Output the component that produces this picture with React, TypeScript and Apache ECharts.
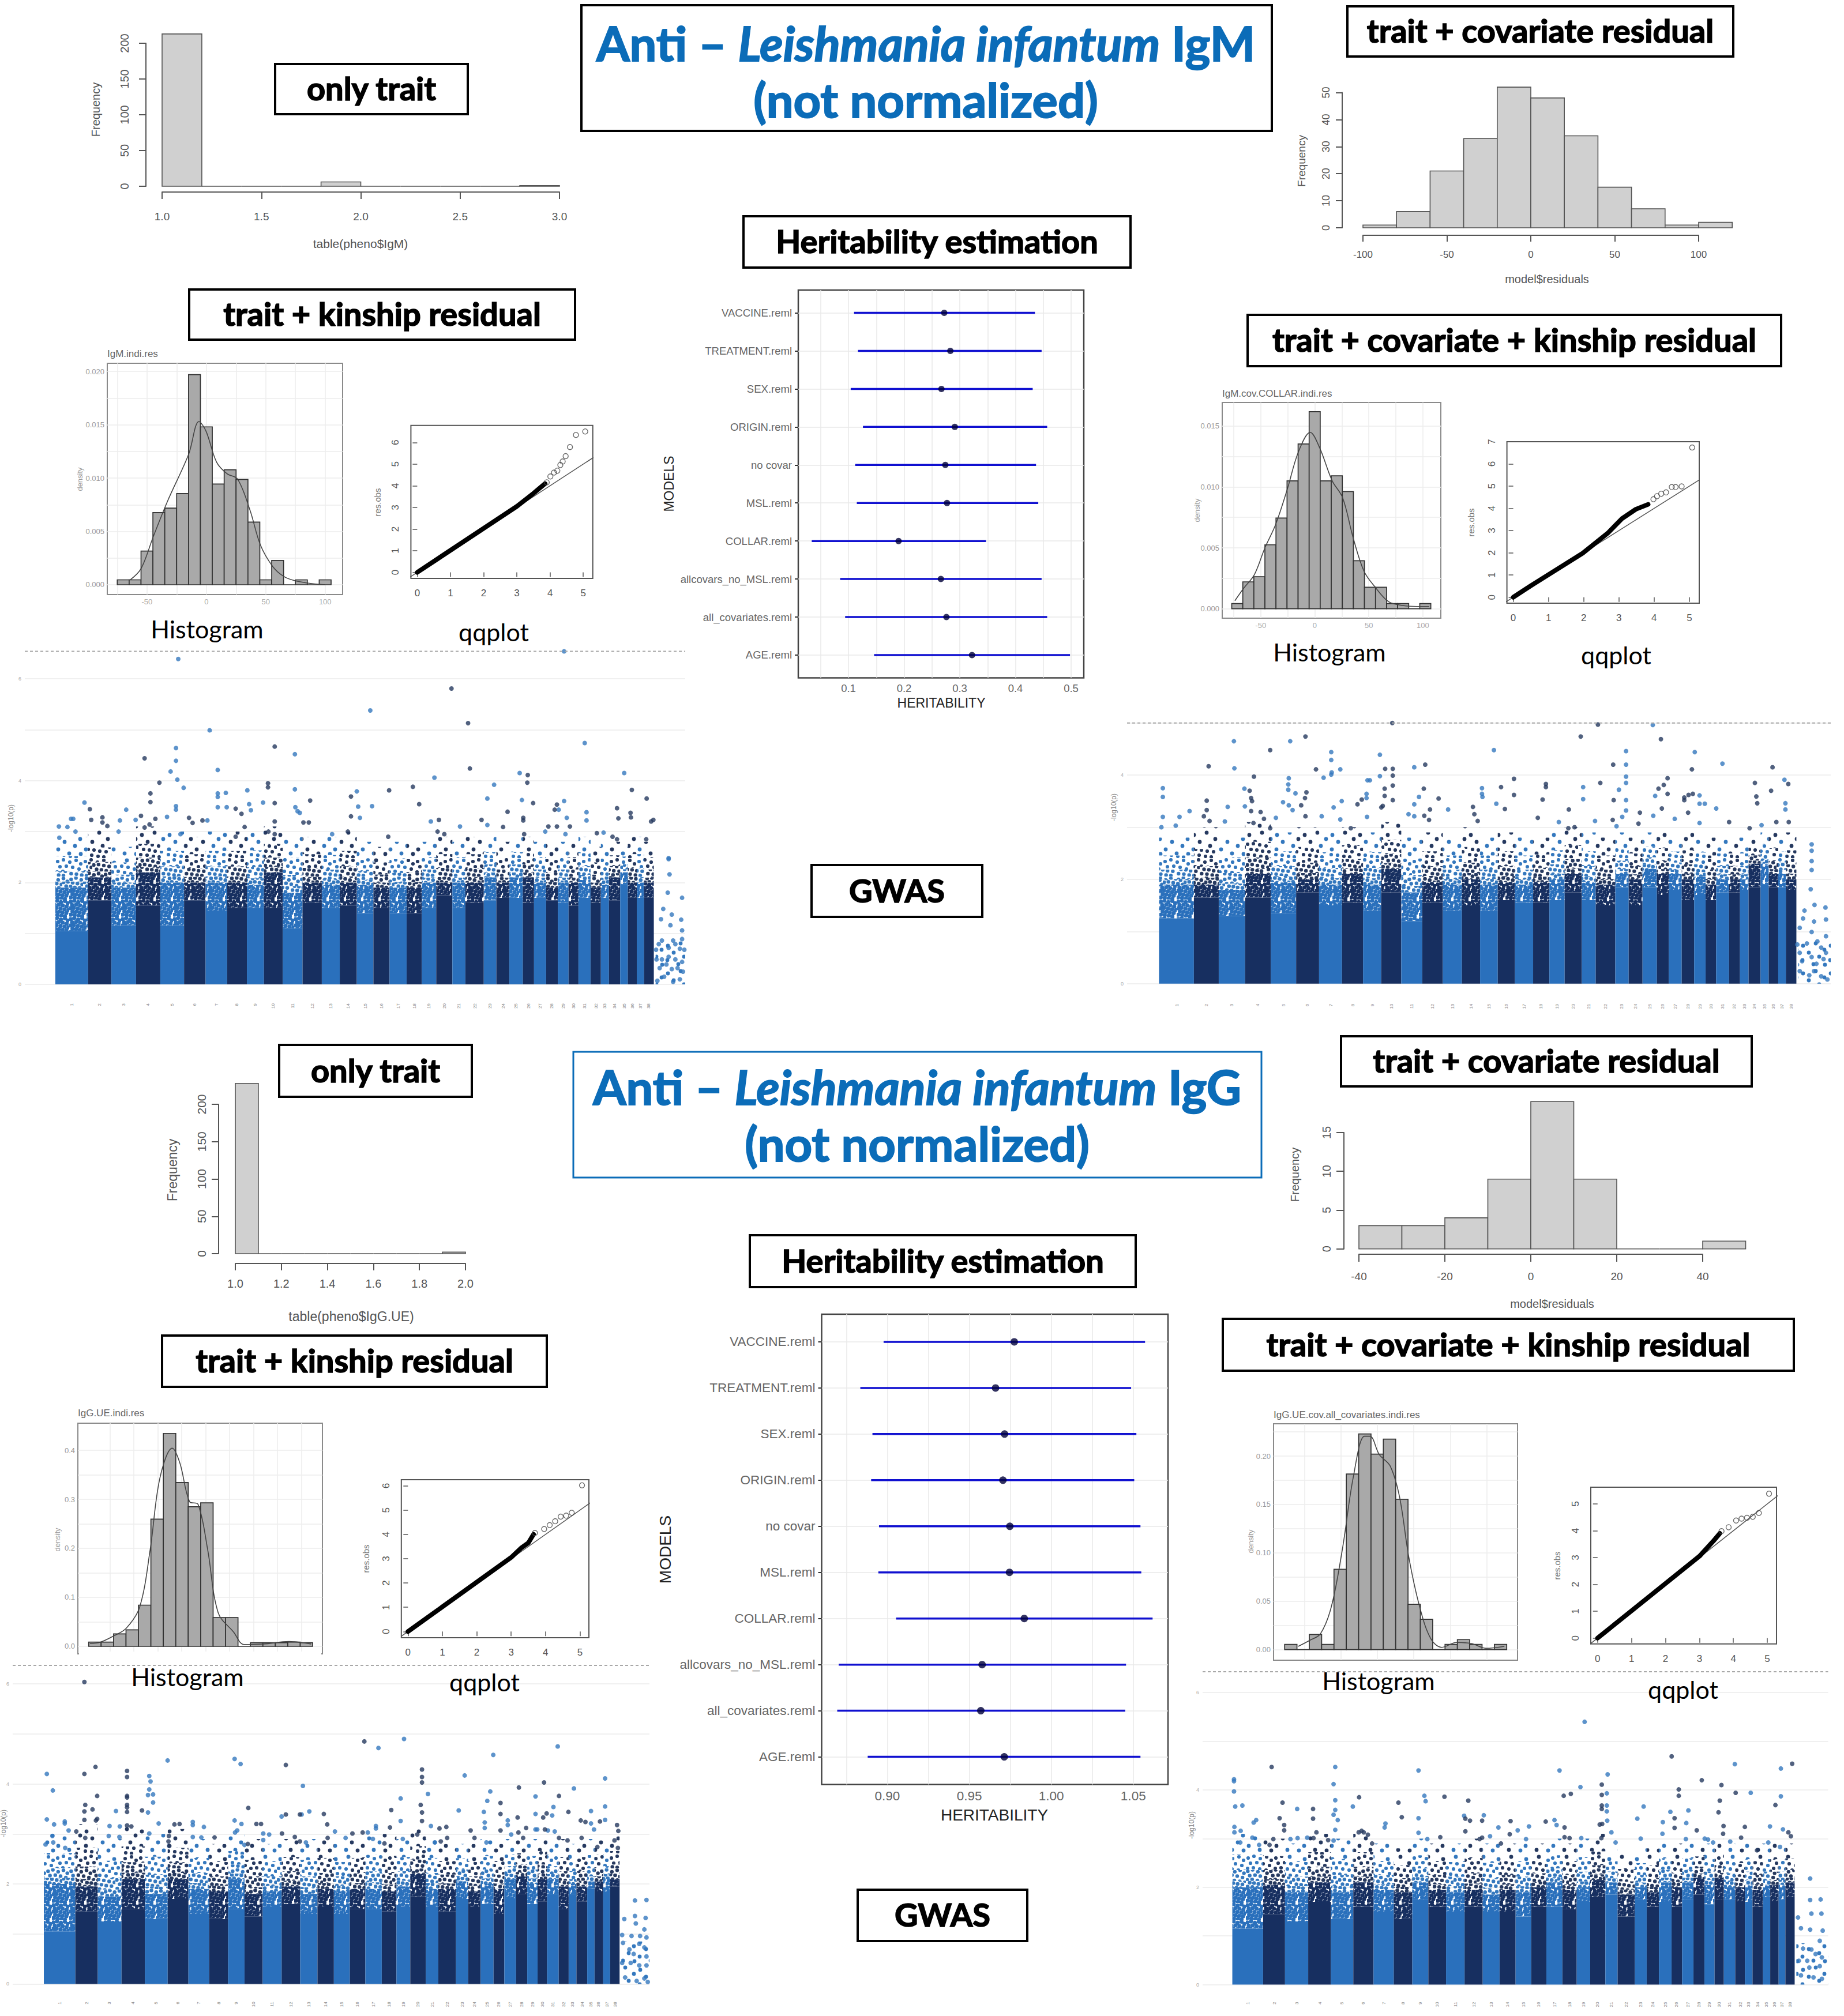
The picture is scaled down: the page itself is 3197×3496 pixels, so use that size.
import React, { useEffect, useRef } from "react";
import * as echarts from "echarts";

// ---------- data ----------
const igmOnlyTraitBins = [213, 0, 0, 0, 6, 0, 0, 0, 0, 1];
const igmCovResidualBins = [1, 6, 21, 33, 52, 48, 34, 15, 7, 1, 2];
const iggOnlyTraitBins = [228, 0, 0, 0, 0, 0, 0, 0, 0, 2];
const iggCovResidualBins = [3, 3, 4, 9, 19, 9, 0, 0, 1];

const igmIndiDensity = [0.00046, 0.00046, 0.00315, 0.00676, 0.00718, 0.00855, 0.0197, 0.0148, 0.00944, 0.01078, 0.00987, 0.00587, 0.00046, 0.00228, 0, 0.00046, 0, 0.00046];
const igmIndiCurve = [[-64, 0.00046], [-55, 0.0015], [-44.7, 0.0045], [-32.8, 0.0078], [-15, 0.0122], [-6.2, 0.0153], [-0.3, 0.0144], [8.6, 0.0115], [17.5, 0.0104], [26.3, 0.0099], [36.7, 0.007], [45.6, 0.0037], [55.9, 0.0017], [64.8, 0.0008], [73.7, 0.0004], [88.5, 0.0001], [100, 0]];
const igmCollarDensity = [0.00043, 0.00221, 0.00263, 0.00525, 0.00744, 0.01049, 0.01352, 0.01617, 0.01049, 0.01091, 0.00962, 0.00394, 0.00177, 0.00177, 0.00043, 0.00043, 0, 0.00043];
const igmCollarCurve = [[-73.9, 0.00066], [-65.7, 0.00169], [-55.9, 0.00279], [-46.1, 0.005], [-36.3, 0.00689], [-25.8, 0.00969], [-15, 0.0129], [-4.2, 0.01447], [4.6, 0.01319], [16, 0.01052], [25.8, 0.0091], [35.6, 0.00579], [45.4, 0.00311], [55.2, 0.00185], [68.3, 0.00058], [81.4, 0.00027], [94.4, 0.00019], [105.9, 0.00019]];
const iggIndiDensity = [0.0086, 0.0086, 0.0254, 0.0337, 0.0841, 0.2595, 0.4344, 0.3342, 0.2849, 0.2928, 0.0587, 0.0587, 0, 0.0074, 0.0074, 0.0074, 0.0086, 0.0074];
const iggIndiCurve = [[-9.6, 0.0059], [-8.5, 0.0086], [-7.1, 0.0215], [-5.8, 0.037], [-4.4, 0.0803], [-3.3, 0.198], [-2.3, 0.3425], [-1, 0.4043], [-0.2, 0.3738], [0.8, 0.2955], [1.7, 0.2896], [2.7, 0.1976], [3.8, 0.0685], [5.4, 0.0294], [6.5, 0.0039], [8.5, 0.0047], [11.2, 0.0098], [13.5, 0.0047]];
const iggAllCovDensity = [0.0054, 0, 0.0157, 0.0054, 0.0831, 0.1815, 0.2229, 0.202, 0.2175, 0.1554, 0.0468, 0.0313, 0, 0.0054, 0.0104, 0.0054, 0, 0.0054];
const iggAllCovCurve = [[-5.43, 0.0034], [-4.67, 0.0094], [-3.91, 0.0163], [-3.16, 0.0442], [-2.4, 0.1038], [-1.64, 0.1793], [-0.88, 0.2205], [-0.51, 0.2205], [0.13, 0.2016], [0.88, 0.1897], [1.52, 0.1578], [2.15, 0.096], [2.9, 0.0442], [3.66, 0.0114], [4.42, 0.0024], [5.43, 0.0074], [6.44, 0.0064], [7.45, 0.0014], [8.71, 0.0034]];

const q1Body = [[0, 0], [3, 3.05], [3.5, 3.65], [3.85, 4.1]];
const q1Tail = [[3.9, 4.16], [4.01, 4.43], [4.12, 4.61], [4.22, 4.7], [4.31, 4.96], [4.38, 5.12], [4.47, 5.37], [4.6, 5.79], [4.78, 6.35], [5.06, 6.51]];
const q2Body = [[0, 0], [0.47, 0.49], [1.97, 1.98], [2.68, 2.88], [3.08, 3.53], [3.48, 3.96], [3.83, 4.18]];
const q2Tail = [[3.98, 4.41], [4.08, 4.55], [4.2, 4.66], [4.34, 4.72], [4.5, 4.96], [4.61, 4.96], [4.78, 4.99], [5.08, 6.74]];
const q3Body = [[0, 0], [3, 3.05], [3.3, 3.45], [3.5, 3.65], [3.65, 4.0]];
const q3Tail = [[3.69, 4.06], [3.96, 4.22], [4.12, 4.38], [4.28, 4.54], [4.44, 4.73], [4.6, 4.77], [4.76, 4.89], [5.06, 6.02]];
const q4Body = [[0, 0], [3, 3.05], [3.4, 3.6], [3.6, 3.9]];
const q4Tail = [[3.65, 3.98], [3.86, 4.13], [4.08, 4.38], [4.24, 4.45], [4.4, 4.48], [4.57, 4.52], [4.75, 4.66], [5.05, 5.38]];

const modelNames = ["AGE.reml", "all_covariates.reml", "allcovars_no_MSL.reml", "COLLAR.reml", "MSL.reml", "no covar", "ORIGIN.reml", "SEX.reml", "TREATMENT.reml", "VACCINE.reml"];
const igmLow = [0.146, 0.094, 0.085, 0.034, 0.115, 0.112, 0.126, 0.104, 0.117, 0.11];
const igmHigh = [0.498, 0.457, 0.447, 0.347, 0.441, 0.437, 0.457, 0.431, 0.447, 0.435];
const igmEst = [0.322, 0.276, 0.266, 0.19, 0.277, 0.274, 0.291, 0.267, 0.283, 0.272];
const iggLow = [0.888, 0.8694, 0.8703, 0.9053, 0.8945, 0.8949, 0.8901, 0.8909, 0.8835, 0.8977];
const iggHigh = [1.0544, 1.0451, 1.0456, 1.0618, 1.0549, 1.0544, 1.0506, 1.0519, 1.0487, 1.0572];
const iggEst = [0.9713, 0.957, 0.9578, 0.9835, 0.9745, 0.9747, 0.9705, 0.9715, 0.966, 0.9774];

const chrLengths = [73, 52, 55, 54, 53, 48, 48, 44, 38, 42, 44, 43, 40, 38, 37, 36, 38, 34, 32, 36, 29, 41, 28, 29, 30, 25, 27, 26, 24, 22, 27, 23, 18, 25, 17, 20, 16, 22];

const m1Solid = [1.05, 1.65, 1.15, 1.55, 1.15, 1.65, 1.45, 1.5, 1.5, 1.5, 1.1, 1.6, 1.5, 1.55, 1.4, 1.5, 1.4, 1.4, 1.5, 1.75, 1.5, 1.6, 1.65, 1.7, 1.7, 1.6, 1.7, 1.65, 1.6, 1.55, 1.7, 1.6, 1.7, 1.65, 1.95, 1.7, 1.7, 1.7];
const m1Dense = [1.9, 2.1, 1.9, 2.2, 2.0, 2.0, 2.0, 2.0, 1.95, 2.2, 1.8, 2.0, 1.95, 2.0, 1.95, 1.9, 1.9, 1.9, 2.0, 2.0, 2.0, 2.0, 2.1, 2.0, 2.1, 2.1, 2.0, 1.9, 2.0, 2.0, 2.05, 1.9, 1.95, 2.1, 2.2, 2.0, 2.0, 2.0];
const m1Sparse = [2.7, 2.85, 2.5, 2.9, 2.8, 2.7, 2.8, 2.8, 2.85, 2.9, 2.7, 2.7, 2.7, 2.8, 2.6, 2.5, 2.6, 2.6, 2.6, 2.7, 2.6, 2.7, 2.7, 2.6, 2.7, 2.7, 2.6, 2.6, 2.6, 2.6, 2.7, 2.5, 2.6, 2.6, 2.5, 2.7, 2.7, 2.6];
const m1Points = [[274, 6.39], [1134, 6.54], [883, 5.81], [702, 5.38], [920, 5.13], [344, 4.99], [1180, 4.74], [489, 4.67], [269, 4.64], [199, 4.44], [534, 4.52], [269, 4.39], [362, 4.21], [924, 4.24], [257, 4.18], [1035, 4.15], [1053, 4.11], [1268, 4.15], [845, 4.06], [1052, 3.96], [232, 3.96], [272, 4.02], [474, 3.95], [474, 3.87], [286, 3.86], [797, 3.88], [978, 3.92], [534, 3.83], [428, 3.81], [672, 3.79], [744, 3.81], [1285, 3.82], [212, 3.75], [362, 3.75], [380, 3.76], [362, 3.68], [659, 3.69], [963, 3.65], [568, 3.61], [1040, 3.62], [1134, 3.6], [1318, 3.65], [65, 3.57], [212, 3.58], [432, 3.54], [463, 3.57], [489, 3.56], [811, 3.54], [1065, 3.56], [1118, 3.53], [706, 3.5], [675, 3.49], [269, 3.5], [362, 3.48], [382, 3.48], [77, 3.44], [158, 3.43], [269, 3.43], [535, 3.48], [402, 3.45], [1252, 3.46], [1113, 3.43], [1122, 3.43], [436, 3.42], [1184, 3.38], [1008, 3.39], [540, 3.4], [545, 3.37], [415, 3.35], [659, 3.3], [191, 3.31], [249, 3.29], [1282, 3.37], [1283, 3.28], [298, 3.27], [1255, 3.26], [1140, 3.27], [1043, 3.27], [1043, 3.22], [105, 3.28], [855, 3.23], [679, 3.27], [40, 3.25], [35, 3.25], [80, 3.23], [105, 3.18], [144, 3.22], [179, 3.23], [223, 3.25], [950, 3.23], [837, 3.2], [1333, 3.23], [553, 3.18], [565, 3.18], [306, 3.17], [328, 3.22], [339, 3.22], [489, 3.2], [1328, 3.2], [1184, 3.22], [116, 3.11], [210, 3.14], [963, 3.13], [998, 3.09], [8, 3.1], [27, 3.09], [9, 2.88], [45, 3.0], [141, 3.0], [199, 3.08], [422, 3.09], [475, 3.0], [489, 2.95], [652, 3.0], [742, 2.9], [852, 3.0], [867, 2.95], [902, 3.1], [1045, 2.95], [1092, 3.0], [1137, 2.95], [1207, 2.97], [1222, 2.98], [1242, 2.9], [1317, 2.85], [1252, 2.85], [1147, 3.1], [1099, 3.1], [1118, 3.1], [279, 2.95], [617, 2.95], [402, 2.9]];
const m1ChrX = [[1367, 2.48], [1367, 2.46], [1369, 2.16], [1365, 1.8], [1397, 1.7], [1355, 1.48], [1350, 1.28], [1374, 1.37], [1371, 1.16], [1395, 1.27], [1397, 1.06], [1397, 0.89], [1352, 0.86], [1345, 0.79], [1339, 0.68], [1377, 0.86], [1382, 0.79], [1367, 0.72], [1392, 0.7], [1402, 0.68], [1340, 0.49], [1352, 0.49], [1367, 0.54], [1382, 0.49], [1397, 0.44], [1347, 0.32], [1362, 0.39], [1374, 0.3], [1387, 0.32], [1399, 0.25], [1342, 0.07], [1357, 0.15], [1377, 0.05], [1392, 0.1]];

const m2Solid = [1.25, 1.65, 1.3, 1.65, 1.35, 1.75, 1.5, 1.55, 1.4, 1.75, 1.2, 1.55, 1.4, 1.5, 1.4, 1.6, 1.55, 1.55, 1.6, 1.75, 1.6, 1.5, 1.85, 1.5, 1.85, 1.7, 1.8, 1.6, 1.7, 1.6, 1.75, 1.75, 1.8, 1.85, 1.9, 1.85, 1.85, 1.8];
const m2Dense = [1.9, 1.9, 1.8, 2.1, 1.95, 2.0, 1.9, 2.1, 1.9, 2.2, 1.75, 1.95, 1.9, 2.0, 1.9, 1.95, 1.9, 1.95, 2.0, 2.1, 1.95, 1.9, 2.1, 2.0, 2.2, 2.1, 2.1, 2.0, 2.05, 1.9, 2.0, 2.0, 2.0, 2.3, 2.3, 2.1, 2.1, 2.0];
const m2Sparse = [2.6, 2.8, 2.6, 2.9, 2.7, 2.8, 2.7, 2.8, 2.7, 2.9, 2.6, 2.7, 2.6, 2.8, 2.6, 2.7, 2.6, 2.6, 2.7, 2.8, 2.7, 2.6, 2.7, 2.6, 2.7, 2.7, 2.6, 2.7, 2.6, 2.6, 2.6, 2.6, 2.6, 2.6, 2.7, 2.7, 2.6, 2.7];
const m2Points = [[489, 5.0], [920, 4.97], [1035, 4.96], [307, 4.74], [884, 4.74], [157, 4.65], [275, 4.65], [1052, 4.69], [233, 4.48], [702, 4.48], [361, 4.44], [979, 4.46], [1123, 4.44], [463, 4.39], [361, 4.29], [104, 4.17], [952, 4.2], [979, 4.2], [558, 4.2], [1181, 4.22], [1286, 4.15], [535, 4.15], [158, 4.13], [329, 4.11], [380, 4.11], [474, 4.12], [490, 4.12], [1117, 4.11], [362, 4.05], [361, 4.01], [490, 3.99], [199, 3.97], [345, 3.95], [463, 3.98], [272, 3.94], [744, 3.93], [1066, 3.94], [979, 3.97], [979, 3.85], [1311, 3.91], [437, 3.9], [442, 3.9], [925, 3.85], [1249, 3.85], [1319, 3.83], [271, 3.82], [490, 3.8], [811, 3.83], [811, 3.77], [1058, 3.81], [8, 3.75], [179, 3.74], [190, 3.7], [717, 3.77], [555, 3.74], [889, 3.77], [1047, 3.74], [964, 3.72], [473, 3.74], [677, 3.75], [677, 3.64], [678, 3.58], [309, 3.67], [1283, 3.7], [1066, 3.64], [744, 3.62], [8, 3.58], [435, 3.64], [435, 3.56], [286, 3.65], [271, 3.72], [473, 3.6], [490, 3.52], [1119, 3.64], [1110, 3.62], [1133, 3.61], [1101, 3.57], [1252, 3.59], [1101, 3.52], [804, 3.53], [889, 3.54], [979, 3.52], [586, 3.55], [545, 3.58], [193, 3.56], [306, 3.56], [195, 3.5], [100, 3.51], [383, 3.5], [425, 3.53], [416, 3.44], [1254, 3.46], [953, 3.52], [1313, 3.46], [1133, 3.45], [1144, 3.45], [298, 3.42], [260, 3.48], [272, 3.42], [180, 3.4], [144, 3.39], [535, 3.44], [1040, 3.6], [1054, 3.36], [1168, 3.36], [725, 3.35], [707, 3.45], [859, 3.34], [1109, 3.28], [979, 3.32], [1008, 3.28], [466, 3.38], [568, 3.34], [606, 3.34], [658, 3.39], [64, 3.31], [100, 3.33], [193, 3.31], [280, 3.33], [366, 3.38], [469, 3.41], [1313, 3.34], [8, 3.2], [43, 3.2], [35, 3.03], [5, 3.0], [106, 3.12], [94, 3.21], [138, 3.11], [213, 3.29], [220, 3.16], [245, 3.18], [233, 2.98], [198, 3.08], [341, 3.21], [307, 3.21], [380, 3.15], [402, 2.98], [436, 3.2], [523, 3.25], [535, 3.21], [556, 3.22], [566, 3.14], [661, 3.25], [668, 3.12], [794, 3.18], [838, 3.1], [858, 2.98], [871, 3.0], [914, 3.12], [951, 3.14], [959, 3.02], [971, 3.2], [1005, 3.07], [1036, 3.22], [1081, 3.16], [1133, 3.08], [1195, 3.1], [1238, 2.98], [1263, 3.04], [1294, 3.1], [1320, 3.1]];
const m2ChrX = [[1368, 2.67], [1368, 2.55], [1368, 2.35], [1368, 2.18], [1366, 1.81], [1353, 1.4], [1374, 1.51], [1397, 1.46], [1350, 1.25], [1373, 1.19], [1398, 1.23], [1343, 1.07], [1368, 0.99], [1380, 0.81], [1398, 0.91], [1338, 0.75], [1358, 0.77], [1388, 0.69], [1343, 0.59], [1368, 0.51], [1398, 0.59], [1348, 0.43], [1378, 0.38], [1393, 0.47], [1343, 0.24], [1363, 0.16], [1388, 0.14], [1401, 0.08], [1373, 0.24]];

const m3Solid = [1.05, 1.45, 1.25, 1.5, 1.3, 1.7, 1.4, 1.3, 1.5, 1.35, 1.55, 1.6, 1.4, 1.55, 1.4, 1.5, 1.5, 1.45, 1.55, 1.75, 1.55, 1.45, 1.7, 1.55, 1.6, 1.4, 1.7, 1.8, 1.6, 1.65, 1.8, 1.5, 1.8, 1.65, 1.9, 1.85, 1.85, 1.95];
const m3Dense = [2.0, 1.95, 1.75, 2.1, 1.8, 2.1, 1.9, 1.85, 2.1, 1.8, 1.85, 1.95, 1.8, 1.9, 1.85, 1.9, 1.9, 1.85, 1.95, 2.2, 1.9, 1.9, 2.05, 1.85, 2.0, 1.9, 2.1, 2.15, 2.0, 2.1, 2.1, 1.95, 2.0, 1.95, 2.05, 2.05, 2.1, 2.1];
const m3Sparse = [2.8, 3.0, 2.7, 2.95, 2.8, 2.9, 2.7, 2.6, 2.8, 2.7, 2.6, 2.7, 2.7, 2.7, 2.6, 2.7, 2.8, 2.8, 2.7, 2.9, 2.7, 2.6, 2.6, 2.6, 2.7, 2.6, 2.7, 2.7, 2.7, 2.8, 2.7, 2.7, 2.6, 2.7, 2.7, 2.7, 2.7, 2.8];
const m3Points = [[95, 6.04], [844, 4.9], [751, 4.85], [784, 4.72], [1204, 4.75], [1053, 4.58], [290, 4.47], [447, 4.5], [461, 4.4], [567, 4.38], [121, 4.34], [195, 4.26], [195, 4.14], [886, 4.29], [886, 4.14], [886, 4.03], [7, 4.2], [95, 4.2], [247, 4.16], [250, 4.05], [986, 4.17], [1315, 4.11], [1172, 4.03], [607, 3.96], [1113, 3.93], [21, 3.87], [1242, 3.91], [247, 3.89], [1046, 3.85], [900, 3.8], [125, 3.76], [195, 3.76], [195, 3.73], [244, 3.78], [256, 3.79], [1152, 3.75], [1207, 3.76], [836, 3.71], [256, 3.63], [1039, 3.66], [1070, 3.62], [97, 3.58], [479, 3.52], [195, 3.58], [195, 3.53], [1315, 3.55], [883, 3.58], [1194, 3.54], [886, 3.43], [114, 3.49], [814, 3.48], [95, 3.45], [169, 3.46], [195, 3.44], [230, 3.47], [244, 3.43], [972, 3.47], [1031, 3.44], [622, 3.45], [1282, 3.46], [1229, 3.44], [567, 3.39], [557, 3.35], [600, 3.39], [604, 3.39], [656, 3.4], [1152, 3.4], [1178, 3.41], [1170, 3.33], [1191, 3.37], [1070, 3.4], [1110, 3.33], [7, 3.29], [49, 3.25], [95, 3.28], [122, 3.27], [125, 3.3], [447, 3.27], [1258, 3.27], [1269, 3.24], [1315, 3.28], [1303, 3.25], [1282, 3.21], [836, 3.26], [886, 3.26], [1033, 3.23], [1087, 3.27], [24, 3.19], [269, 3.21], [306, 3.19], [318, 3.2], [349, 3.24], [349, 3.18], [463, 3.2], [498, 3.2], [509, 3.2], [664, 3.19], [1070, 3.07], [1033, 3.12], [154, 3.16], [178, 3.15], [195, 3.17], [205, 3.15], [375, 3.14], [778, 3.16], [778, 3.11], [811, 3.13], [907, 3.16], [943, 3.14], [927, 3.11], [1087, 3.18], [1130, 3.12], [1156, 3.09], [1174, 3.09], [1289, 3.09], [1343, 3.18], [1346, 3.06], [1000, 3.07], [4, 2.79], [49, 3.21], [58, 3.07], [76, 3.05], [20, 2.96], [22, 2.83], [50, 2.72], [152, 2.96], [177, 2.94], [97, 2.92], [247, 3.01], [293, 2.96], [292, 2.85], [294, 2.76], [349, 2.94], [369, 2.93], [400, 2.93], [448, 3.03], [453, 3.07], [470, 2.78], [478, 2.8], [514, 3.01], [514, 2.88], [528, 2.99], [558, 3.01], [588, 2.94], [600, 2.85], [614, 2.83], [665, 2.92], [682, 3.05], [707, 2.92], [723, 3.01], [747, 3.03], [759, 3.03], [771, 2.9], [798, 2.81], [841, 2.9], [875, 2.99], [916, 2.83], [930, 2.85], [945, 2.92], [1009, 2.92], [1037, 2.83], [1095, 2.99], [1112, 3.03], [1123, 2.92], [1152, 3.09], [1181, 3.07], [1197, 3.05], [1207, 2.92], [1227, 2.87], [1260, 2.92], [1297, 2.74], [1337, 2.87], [1345, 2.72]];
const m3ChrX = [[1385, 1.67], [1412, 1.68], [1385, 1.36], [1410, 1.32], [1360, 1.3], [1387, 1.21], [1407, 1.09], [1355, 0.98], [1377, 0.96], [1397, 0.96], [1412, 0.93], [1357, 0.82], [1395, 0.8], [1372, 0.69], [1407, 0.73], [1382, 0.6], [1412, 0.55], [1355, 0.42], [1375, 0.42], [1395, 0.37], [1412, 0.37], [1362, 0.13], [1389, 0.06], [1407, 0.11], [1415, 0.04]];

const m4Solid = [1.15, 1.45, 1.3, 1.7, 1.35, 1.6, 1.5, 1.35, 1.75, 1.6, 1.5, 1.6, 1.5, 1.5, 1.4, 1.6, 1.6, 1.55, 1.7, 1.8, 1.85, 1.4, 1.75, 1.6, 1.7, 1.6, 1.75, 1.85, 1.65, 1.75, 1.75, 1.7, 1.7, 1.6, 1.8, 1.7, 1.75, 1.8];
const m4Dense = [2.0, 2.05, 1.9, 2.1, 1.9, 2.1, 1.95, 1.9, 2.1, 1.95, 1.9, 1.95, 1.85, 1.95, 1.9, 2.0, 2.1, 1.95, 2.0, 2.15, 2.1, 1.85, 2.0, 1.9, 2.1, 2.0, 2.1, 2.2, 2.05, 2.2, 2.0, 2.0, 2.05, 1.95, 2.05, 2.05, 2.05, 2.1];
const m4Sparse = [2.9, 2.8, 2.7, 2.9, 2.8, 2.9, 2.7, 2.6, 2.8, 2.7, 2.7, 2.8, 2.7, 2.7, 2.7, 2.7, 2.8, 2.7, 2.8, 2.9, 2.6, 2.5, 2.6, 2.6, 2.7, 2.7, 2.7, 2.7, 2.7, 2.8, 2.7, 2.6, 2.7, 2.7, 2.7, 2.7, 2.7, 2.7];
const m4Points = [[842, 5.4], [1050, 4.69], [1201, 4.53], [1338, 4.54], [94, 4.47], [246, 4.47], [445, 4.4], [782, 4.4], [1311, 4.44], [897, 4.32], [4, 4.22], [4, 4.18], [883, 4.11], [1122, 4.2], [1169, 4.1], [242, 4.12], [832, 4.06], [4, 3.97], [1067, 4.01], [1067, 3.88], [809, 3.92], [792, 3.88], [1203, 3.94], [1239, 3.94], [883, 3.9], [895, 3.93], [459, 3.88], [462, 3.77], [507, 3.86], [564, 3.78], [303, 3.85], [1311, 3.87], [120, 3.74], [397, 3.74], [246, 3.79], [1165, 3.78], [1298, 3.69], [7, 3.66], [24, 3.68], [288, 3.66], [983, 3.66], [883, 3.68], [883, 3.61], [895, 3.68], [895, 3.56], [155, 3.61], [193, 3.61], [246, 3.59], [1162, 3.54], [1047, 3.55], [1090, 3.58], [1057, 3.42], [113, 3.42], [193, 3.41], [405, 3.44], [445, 3.42], [242, 3.49], [252, 3.38], [554, 3.47], [557, 3.41], [601, 3.48], [597, 3.37], [568, 3.37], [968, 3.41], [1029, 3.34], [665, 3.36], [749, 3.35], [770, 3.38], [124, 3.28], [124, 3.17], [51, 3.33], [57, 3.38], [775, 3.28], [794, 3.23], [896, 3.37], [878, 3.29], [884, 3.3], [366, 3.31], [364, 3.23], [5, 3.24], [5, 3.13], [1085, 3.32], [1057, 3.22], [636, 3.23], [709, 3.25], [1174, 3.26], [1225, 3.24], [1285, 3.25], [1316, 3.19], [1329, 3.13], [1335, 3.05], [20, 3.16], [246, 3.18], [1110, 3.17], [1028, 3.1], [557, 3.15], [682, 3.17], [1173, 3.1], [663, 3.09], [445, 3.12], [309, 3.16], [314, 3.13], [302, 3.13], [324, 3.08], [334, 2.9], [201, 3.13], [194, 3.01], [179, 3.02], [156, 3.01], [139, 2.99], [98, 2.99], [89, 2.87], [48, 3.02], [19, 2.92], [64, 2.87], [229, 2.97], [242, 2.96], [497, 3.03], [466, 2.99], [591, 2.99], [597, 3.02], [616, 3.05], [702, 2.99], [642, 2.9], [794, 3.03], [806, 3.01], [834, 3.01], [882, 3.01], [906, 3.13], [916, 2.92], [976, 3], [1084, 2.99], [1129, 3], [1137, 2.98], [1149, 2.92], [1216, 3.02], [1190, 2.94], [1281, 2.92], [1254, 2.76], [1309, 2.83]];
const m4ChrX = [[1381, 2.18], [1381, 1.74], [1406, 1.75], [1384, 1.46], [1408, 1.46], [1352, 1.38], [1381, 1.13], [1411, 1.11], [1359, 1.16], [1404, 0.9], [1364, 0.74], [1384, 0.72], [1394, 0.63], [1409, 0.56], [1354, 0.49], [1374, 0.49], [1379, 0.35], [1404, 0.38], [1359, 0.19], [1389, 0.15], [1409, 0.12]];

// ---------- look ----------
const LIGHT = "#2A70BC";
const DARK = "#172F60";
const LIGHT_DOT = "#3478BE";
const DARK_DOT = "#26395F";
const BLUE = "#0B6CB8";
const SANS = "'Liberation Sans', Arial, sans-serif";
const GILL = "Lato, 'Noto Sans', sans-serif";

// speckle tiles for the saturated part of the Manhattan columns (placement of the dots in one repeat tile)
const denseTile = [[4, 6], [14, 3], [25, 7], [36, 4], [44, 10], [8, 15], [19, 14], [30, 16], [41, 19], [3, 24], [13, 23], [24, 25], [35, 27], [46, 29], [9, 33], [19, 34], [29, 36], [40, 37], [4, 42], [15, 43], [26, 45], [36, 46]];
const sparseTile = [[6, 8], [28, 4], [43, 15], [16, 20], [34, 27], [5, 33], [24, 40], [44, 41]];

function makePattern(dots: number[][], scale: number, size: number, color: string, r: number) {
  const c = document.createElement("canvas");
  c.width = size;
  c.height = size;
  const g = c.getContext("2d")!;
  g.fillStyle = color;
  dots.forEach(([x, y]) => {
    g.beginPath();
    g.arc(x * scale, y * scale, r, 0, Math.PI * 2);
    g.fill();
  });
  return { image: c, repeat: "repeat", imageWidth: size, imageHeight: size };
}

function buildOption() {
  const grid: any[] = [];
  const xAxis: any[] = [];
  const yAxis: any[] = [];
  const series: any[] = [];
  const graphic: any[] = [];

  const text = (t: string, x: number, y: number, size: number, color = "#000", opt: any = {}) => {
    graphic.push({
      type: "text",
      x,
      y,
      rotation: opt.rot ? Math.PI / 2 : 0,
      z: 50,
      silent: true,
      style: {
        text: t,
        fill: color,
        font: `${opt.weight || "normal"} ${size}px ${opt.family || SANS}`,
        textAlign: opt.align || "center",
        textVerticalAlign: "middle",
        ...(opt.heavy ? { stroke: color, lineWidth: opt.heavy } : {}),
      },
    });
  };
  const box = (t: string, x0: number, y0: number, x1: number, y1: number, size = 56) => {
    graphic.push({
      type: "rect",
      z: 49,
      silent: true,
      shape: { x: x0, y: y0, width: x1 - x0, height: y1 - y0 },
      style: { fill: "#fff", stroke: "#000", lineWidth: 4 },
    });
    text(t, (x0 + x1) / 2, (y0 + y1) / 2 - 2, size, "#000", { weight: "bold", family: GILL, heavy: 1.6 });
  };

  const patternSet = (solid: string, dot: string) => [
    solid,
    makePattern(denseTile, 0.625, 30, solid, 3.6),
    makePattern(denseTile, 0.75, 36, dot, 3.3),
    makePattern(denseTile, 40 / 48, 40, dot, 3.2),
    makePattern(denseTile, 1, 48, dot, 3.1),
    makePattern(sparseTile, 1, 48, dot, 3.4),
  ];
  const patterns = [patternSet(LIGHT, LIGHT_DOT), patternSet(DARK, DARK_DOT)];

  const axisRefs = (g: any, xa: any, ya: any) => {
    grid.push({ containLabel: false, ...g });
    const i = grid.length - 1;
    xAxis.push({ gridIndex: i, ...xa });
    yAxis.push({ gridIndex: i, ...ya });
    return i;
  };

  const barRender = (fill: string, stroke: string, lw: number) => (_p: any, api: any) => {
    const a = api.coord([api.value(0), 0]);
    const b = api.coord([api.value(1), api.value(2)]);
    return {
      type: "rect",
      shape: { x: a[0], y: b[1], width: b[0] - a[0], height: a[1] - b[1] },
      style: { fill, stroke, lineWidth: lw },
    };
  };
  const binRows = (vals: number[], start: number, w: number) => vals.map((v, i) => [start + i * w, start + (i + 1) * w, v]);

  // R base-graphics histogram
  const baseHist = (o: any) => {
    const axisStyle = { lineStyle: { color: "#555", width: 2 } };
    const i = axisRefs(
      { left: o.left, top: o.top, width: o.width, height: o.height },
      {
        type: "value", min: o.xMin, max: o.xMax, interval: o.xStep, offset: o.xOff,
        axisLine: { show: true, onZero: false, ...axisStyle },
        axisTick: { show: true, length: o.tick, ...axisStyle },
        axisLabel: { fontSize: o.font, color: "#555", fontFamily: SANS, margin: o.xMargin, showMinLabel: true, showMaxLabel: true, formatter: o.xFmt },
        splitLine: { show: false },
      },
      {
        type: "value", min: 0, max: o.yMax, interval: o.yStep, offset: o.yOff,
        axisLine: { show: true, onZero: false, ...axisStyle },
        axisTick: { show: true, length: o.tick, ...axisStyle },
        axisLabel: { fontSize: o.yFont, color: "#555", fontFamily: SANS, rotate: 90, margin: o.yMargin },
        splitLine: { show: false },
      }
    );
    series.push({
      type: "custom", xAxisIndex: i, yAxisIndex: i, silent: true, clip: false,
      renderItem: barRender("#D0D0D0", "#555", 1.6),
      data: binRows(o.bins, o.binStart, o.binWidth),
    });
  };

  // ggplot-like density histogram
  const densityHist = (o: any) => {
    const gridLine = { show: true, lineStyle: { color: "#ececec", width: 1.5 } };
    const i = axisRefs(
      { left: o.left, top: o.top, width: o.width, height: o.height, show: true, borderColor: "#8a8a8a", borderWidth: 2, backgroundColor: "transparent" },
      {
        type: "value", min: o.xMin, max: o.xMax,
        axisLine: { show: false },
        axisTick: { show: false, customValues: o.xGrid },
        axisLabel: { show: o.xLabels.length > 0, customValues: o.xLabels, fontSize: 13, color: "#aaa", fontFamily: SANS, margin: 6, hideOverlap: false },
        splitLine: gridLine,
      },
      {
        type: "value", min: o.yMin, max: o.yMax,
        axisLine: { show: false },
        axisTick: { show: false, customValues: o.yGrid },
        axisLabel: { customValues: o.yLabels, fontSize: 13, color: "#999", fontFamily: SANS, margin: 5, formatter: (v: number) => v.toFixed(o.yDigits) },
        splitLine: gridLine,
      }
    );
    series.push({
      type: "custom", xAxisIndex: i, yAxisIndex: i, silent: true, clip: false,
      renderItem: barRender("#A9A9A9", "#333", 1.7),
      data: binRows(o.bins, o.binStart, o.binWidth),
    });
    series.push({
      type: "line", xAxisIndex: i, yAxisIndex: i, silent: true, smooth: 0.35, symbol: "none", z: 5,
      lineStyle: { color: "#444", width: 1.6 }, data: o.curve,
    });
    text(o.title, o.left, o.titleY, 17, "#666", { align: "left" });
    text("density", o.densX, o.densY, 13, "#999", { rot: true });
  };

  const qqPlot = (o: any) => {
    const i = axisRefs(
      { left: o.left, top: o.top, width: o.width, height: o.height, show: true, borderColor: "#555", borderWidth: 2, backgroundColor: "transparent" },
      {
        type: "value", min: o.xMin, max: o.xMax,
        axisLine: { show: false },
        axisTick: { show: true, length: 8, customValues: [0, 1, 2, 3, 4, 5], lineStyle: { color: "#555", width: 1.5 } },
        axisLabel: { customValues: [0, 1, 2, 3, 4, 5], fontSize: 17, color: "#555", fontFamily: SANS, margin: 17 },
        splitLine: { show: false },
      },
      {
        type: "value", min: o.yMin, max: o.yMax,
        axisLine: { show: false },
        axisTick: { show: true, length: 8, customValues: o.yTicks, lineStyle: { color: "#555", width: 1.5 } },
        axisLabel: { customValues: o.yTicks, fontSize: 17, color: "#555", fontFamily: SANS, rotate: 90, margin: 18 },
        splitLine: { show: false },
      }
    );
    series.push({
      type: "line", xAxisIndex: i, yAxisIndex: i, silent: true, symbol: "none",
      lineStyle: { color: "#555", width: 1.5 }, data: [[-1, -1], [8, 8]],
    });
    series.push({
      type: "line", xAxisIndex: i, yAxisIndex: i, silent: true, symbol: "none", z: 3,
      lineStyle: { color: "#000", width: 8, cap: "round", join: "round" }, data: o.body,
    });
    series.push({
      type: "scatter", xAxisIndex: i, yAxisIndex: i, silent: true, symbol: "circle", symbolSize: 9, z: 4,
      itemStyle: { color: "rgba(255,255,255,0)", borderColor: "#444", borderWidth: 1.4 }, data: o.tail,
    });
    text("res.obs", o.nameX, o.nameY, 15, "#777", { rot: true });
  };

  const forest = (o: any) => {
    const gridLine = { show: true, lineStyle: { color: "#e8e8e8", width: 1.5 } };
    const idx = modelNames.map((_, k) => k);
    const i = axisRefs(
      { left: o.left, top: o.top, width: o.width, height: o.height, show: true, borderColor: "#444", borderWidth: 2.5, backgroundColor: "transparent" },
      {
        type: "value", min: o.xMin, max: o.xMax,
        axisLine: { show: false },
        axisTick: { show: false, customValues: o.xGrid },
        axisLabel: { customValues: o.xLabels, fontSize: o.font, color: "#666", fontFamily: SANS, margin: 8, formatter: (v: number) => v.toFixed(o.digits) },
        splitLine: gridLine,
      },
      {
        type: "value", min: -0.6, max: 9.6,
        axisLine: { show: false },
        axisTick: { show: true, length: 6, customValues: idx, lineStyle: { color: "#333", width: 2 } },
        axisLabel: { customValues: idx, fontSize: o.font, color: "#666", fontFamily: SANS, margin: 11, formatter: (v: number) => modelNames[Math.round(v)] },
        splitLine: gridLine,
      }
    );
    series.push({
      type: "custom", xAxisIndex: i, yAxisIndex: i, silent: true, z: 3,
      renderItem: (_p: any, api: any) => {
        const a = api.coord([api.value(0), api.value(2)]);
        const b = api.coord([api.value(1), api.value(2)]);
        return { type: "line", shape: { x1: a[0], y1: a[1], x2: b[0], y2: b[1] }, style: { stroke: "#1010D0", lineWidth: o.lw } };
      },
      data: idx.map((k) => [o.low[k], o.high[k], k]),
    });
    series.push({
      type: "scatter", xAxisIndex: i, yAxisIndex: i, silent: true, z: 4, symbolSize: o.dot,
      itemStyle: { color: "#00003A" }, data: idx.map((k) => [o.est[k], k]),
    });
  };

  const manhattan = (o: any) => {
    const total = chrLengths.reduce((a, b) => a + b, 0);
    const k = o.span / total;
    let cur = 0;
    const starts = chrLengths.map((l) => {
      const s = cur;
      cur += l * k;
      return s;
    });
    const centers = starts.map((s, c) => Math.round(s + (chrLengths[c] * k) / 2));
    const labelOf = new Map(centers.map((c, n) => [c, String(n + 1)]));
    const chrOf = (p: number) => {
      for (let c = starts.length - 1; c >= 0; c--) if (p >= starts[c]) return c;
      return 0;
    };
    const i = axisRefs(
      { left: o.left, top: o.y0 - o.unit * o.yMax, width: o.width, height: o.unit * o.yMax },
      {
        type: "value", min: o.xMin, max: o.xMax,
        axisLine: { show: false }, axisTick: { show: false }, splitLine: { show: false },
        axisLabel: { customValues: centers, rotate: 90, fontSize: 8, color: "#888", fontFamily: SANS, margin: o.labelMargin, hideOverlap: false, formatter: (v: number) => labelOf.get(Math.round(v)) || "" },
      },
      {
        type: "value", min: 0, max: o.yMax, interval: 1,
        axisLine: { show: false }, axisTick: { show: false },
        axisLabel: { fontSize: 9, color: "#aaa", fontFamily: SANS, margin: 6, showMaxLabel: false, formatter: (v: number) => (v % 2 === 0 ? String(v) : "") },
        splitLine: { show: true, showMaxLine: false, lineStyle: { color: "#f0f0f0", width: 2 } },
      }
    );
    const rows: number[][] = [];
    chrLengths.forEach((l, c) => {
      const s = starts[c];
      const e = s + l * k;
      const col = c % 2;
      const d = o.dense[c];
      const top = o.sparse[c] + 0.2;
      const b0 = d + (top - d) * 0.12;
      const b1 = d + (top - d) * 0.32;
      const b2 = d + (top - d) * 0.62;
      rows.push([s, e, b2, top, 5, col]);
      rows.push([s, e, b1, b2, 4, col]);
      rows.push([s, e, b0, b1, 3, col]);
      rows.push([s, e, d, b0, 2, col]);
      rows.push([s, e, o.solid[c], d, 1, col]);
      rows.push([s, e, 0, o.solid[c], 0, col]);
    });
    rows.push([o.span + 4, o.xMax, 0, 0.85, 5, 0]);
    series.push({
      type: "custom", xAxisIndex: i, yAxisIndex: i, silent: true, z: 2,
      renderItem: (_p: any, api: any) => {
        const a = api.coord([api.value(0), api.value(2)]);
        const b = api.coord([api.value(1), api.value(3)]);
        return {
          type: "rect",
          shape: { x: a[0], y: b[1], width: b[0] - a[0], height: a[1] - b[1] },
          style: { fill: patterns[api.value(5)][api.value(4)] },
        };
      },
      data: rows,
    });
    const all = [...o.points, ...o.chrX];
    const inChrX = (p: number) => p >= o.span;
    const lightPts = all.filter((d: number[]) => inChrX(d[0]) || chrOf(d[0]) % 2 === 0);
    const darkPts = all.filter((d: number[]) => !inChrX(d[0]) && chrOf(d[0]) % 2 === 1);
    [[lightPts, LIGHT_DOT], [darkPts, DARK_DOT]].forEach(([d, color]: any) => {
      series.push({
        type: "scatter", xAxisIndex: i, yAxisIndex: i, silent: true, z: 3, symbolSize: 8,
        itemStyle: { color }, data: d,
      });
    });
    series.push({
      type: "line", xAxisIndex: i, yAxisIndex: i, silent: true, symbol: "none", z: 4,
      lineStyle: { color: "#a8a8a8", width: 2, type: [5, 4] },
      data: [[o.xMin, o.threshold], [o.xMax, o.threshold]],
    });
    text("-log10(p)", o.nameX, o.nameY, 12, "#888", { rot: true });
  };

  // ---------- base histograms ----------
  baseHist({ left: 281, top: 75, width: 689, height: 248, xMin: 1, xMax: 3, xStep: 0.5, yMax: 200, yStep: 50, xOff: 10, yOff: 28, tick: 12, font: 19, yFont: 20, xMargin: 33, yMargin: 27, xFmt: (v: number) => v.toFixed(1), bins: igmOnlyTraitBins, binStart: 1, binWidth: 0.2 });
  text("table(pheno$IgM)", 625, 422, 21, "#555");
  text("Frequency", 166, 190, 20, "#555", { rot: true });

  baseHist({ left: 2363, top: 160.5, width: 582, height: 234.5, xMin: -100, xMax: 100, xStep: 50, yMax: 50, yStep: 10, xOff: 13, yOff: 36, tick: 11, font: 17, yFont: 18, xMargin: 25, yMargin: 19, bins: igmCovResidualBins, binStart: -100, binWidth: 20 });
  text("model$residuals", 2682, 484, 20, "#555");
  text("Frequency", 2256, 279, 19, "#555", { rot: true });

  baseHist({ left: 408, top: 1915, width: 399, height: 259, xMin: 1, xMax: 2, xStep: 0.2, yMax: 200, yStep: 50, xOff: 17, yOff: 29, tick: 12, font: 20, yFont: 21, xMargin: 25, yMargin: 19, xFmt: (v: number) => v.toFixed(1), bins: iggOnlyTraitBins, binStart: 1, binWidth: 0.1 });
  text("table(pheno$IgG.UE)", 609, 2283, 23, "#555");
  text("Frequency", 299, 2029, 23, "#555", { rot: true });

  baseHist({ left: 2356, top: 1964, width: 596, height: 201.7, xMin: -40, xMax: 40, xStep: 20, yMax: 15, yStep: 5, xOff: 9.3, yOff: 26, tick: 13, font: 19, yFont: 20, xMargin: 29, yMargin: 20, bins: iggCovResidualBins, binStart: -40, binWidth: 10 });
  text("model$residuals", 2691, 2261, 20, "#555");
  text("Frequency", 2245, 2037, 20, "#555", { rot: true });

  // ---------- density histograms ----------
  densityHist({ left: 186, top: 630, width: 408, height: 401, xMin: -83.4, xMax: 114.7, yMin: -0.00092, yMax: 0.02076, xGrid: [-75, -50, -25, 0, 25, 50, 75, 100], xLabels: [-50, 0, 50, 100], yGrid: [0, 0.0025, 0.005, 0.0075, 0.01, 0.0125, 0.015, 0.0175, 0.02], yLabels: [0, 0.005, 0.01, 0.015, 0.02], yDigits: 3, bins: igmIndiDensity, binStart: -75, binWidth: 10, curve: igmIndiCurve, title: "IgM.indi.res", titleY: 613, densX: 138, densY: 831 });
  densityHist({ left: 2119, top: 698, width: 379, height: 374, xMin: -85.6, xMax: 116.6, yMin: -0.00077, yMax: 0.01692, xGrid: [-75, -50, -25, 0, 25, 50, 75, 100], xLabels: [-50, 0, 50, 100], yGrid: [0, 0.0025, 0.005, 0.0075, 0.01, 0.0125, 0.015], yLabels: [0, 0.005, 0.01, 0.015], yDigits: 3, bins: igmCollarDensity, binStart: -76.8, binWidth: 10.23, curve: igmCollarCurve, title: "IgM.cov.COLLAR.indi.res", titleY: 682, densX: 2075, densY: 885 });
  densityHist({ left: 135, top: 2468, width: 424, height: 400, xMin: -10.86, xMax: 14.69, yMin: -0.0153, yMax: 0.4553, xGrid: [-7.5, -5, -2.5, 0, 2.5, 5, 7.5, 10, 12.5], xLabels: [], yGrid: [0, 0.05, 0.1, 0.15, 0.2, 0.25, 0.3, 0.35, 0.4], yLabels: [0, 0.1, 0.2, 0.3, 0.4], yDigits: 1, bins: iggIndiDensity, binStart: -9.73, binWidth: 1.3, curve: iggIndiCurve, title: "IgG.UE.indi.res", titleY: 2450, densX: 99, densY: 2670 });
  densityHist({ left: 2208, top: 2469, width: 423, height: 410, xMin: -7.12, xMax: 9.61, yMin: -0.0109, yMax: 0.2334, xGrid: [-5, -2.5, 0, 2.5, 5, 7.5], xLabels: [], yGrid: [0, 0.025, 0.05, 0.075, 0.1, 0.125, 0.15, 0.175, 0.2, 0.225], yLabels: [0, 0.05, 0.1, 0.15, 0.2], yDigits: 2, bins: iggAllCovDensity, binStart: -6.36, binWidth: 0.846, curve: iggAllCovCurve, title: "IgG.UE.cov.all_covariates.indi.res", titleY: 2453, densX: 2168, densY: 2673 });
  graphic.push({ type: "rect", z: 6, silent: true, shape: { x: 137, y: 2864, width: 420, height: 8 }, style: { fill: "#fff" } });

  // ---------- qq plots ----------
  qqPlot({ left: 712.4, top: 737.7, width: 315.3, height: 265.2, xMin: -0.191, xMax: 5.287, yMin: -0.277, yMax: 6.79, yTicks: [0, 1, 2, 3, 4, 5, 6], body: q1Body, tail: q1Tail, nameX: 654, nameY: 871 });
  qqPlot({ left: 2612.6, top: 766, width: 333.4, height: 280, xMin: -0.18, xMax: 5.28, yMin: -0.268, yMax: 7, yTicks: [0, 1, 2, 3, 4, 5, 6, 7], body: q2Body, tail: q2Tail, nameX: 2550, nameY: 906 });
  qqPlot({ left: 695.8, top: 2566, width: 325.2, height: 274, xMin: -0.193, xMax: 5.26, yMin: -0.254, yMax: 6.25, yTicks: [0, 1, 2, 3, 4, 5, 6], body: q3Body, tail: q3Tail, nameX: 634, nameY: 2703 });
  qqPlot({ left: 2758, top: 2579, width: 322, height: 271.7, xMin: -0.2, xMax: 5.27, yMin: -0.215, yMax: 5.62, yTicks: [0, 1, 2, 3, 4, 5], body: q4Body, tail: q4Tail, nameX: 2699.5, nameY: 2715 });

  // ---------- forest plots ----------
  forest({ left: 1384, top: 503, width: 495, height: 672.5, xMin: 0.0098, xMax: 0.5228, xGrid: [0.05, 0.1, 0.15, 0.2, 0.25, 0.3, 0.35, 0.4, 0.45, 0.5], xLabels: [0.1, 0.2, 0.3, 0.4, 0.5], digits: 1, low: igmLow, high: igmHigh, est: igmEst, font: 18.5, lw: 3.5, dot: 11 });
  text("HERITABILITY", 1632, 1219, 23, "#222");
  text("MODELS", 1160, 839, 23, "#222", { rot: true });
  forest({ left: 1424.5, top: 2279, width: 600.5, height: 815.5, xMin: 0.8599, xMax: 1.0712, xGrid: [0.875, 0.9, 0.925, 0.95, 0.975, 1, 1.025, 1.05], xLabels: [0.9, 0.95, 1, 1.05], digits: 2, low: iggLow, high: iggHigh, est: iggEst, font: 22.5, lw: 3.5, dot: 13 });
  text("HERITABILITY", 1724, 3147, 28, "#222");
  text("MODELS", 1153, 2687, 28, "#222", { rot: true });

  // ---------- Manhattan plots ----------
  manhattan({ left: 43, width: 1145, xMin: -68, xMax: 1404, span: 1334, y0: 1707, unit: 88.3, yMax: 7, threshold: 6.54, solid: m1Solid, dense: m1Dense, sparse: m1Sparse, points: m1Points, chrX: m1ChrX, labelMargin: 33, nameX: 19, nameY: 1419 });
  manhattan({ left: 1954, width: 1220, xMin: -67, xMax: 1408, span: 1336, y0: 1705.7, unit: 90.4, yMax: 6, threshold: 5.0, solid: m2Solid, dense: m2Dense, sparse: m2Sparse, points: m2Points, chrX: m2ChrX, labelMargin: 35, nameX: 1931, nameY: 1400 });
  manhattan({ left: 22, width: 1104, xMin: -73, xMax: 1419, span: 1349, y0: 3440.4, unit: 86.7, yMax: 7, threshold: 6.37, solid: m3Solid, dense: m3Dense, sparse: m3Sparse, points: m3Points, chrX: m3ChrX, labelMargin: 31, nameX: 6, nameY: 3162 });
  manhattan({ left: 2085, width: 1084.5, xMin: -71, xMax: 1424, span: 1344, y0: 3441.6, unit: 84.4, yMax: 7, threshold: 6.43, solid: m4Solid, dense: m4Dense, sparse: m4Sparse, points: m4Points, chrX: m4ChrX, labelMargin: 30, nameX: 2066, nameY: 3165 });

  // ---------- titles and captions ----------
  const titleBox = (x0: number, y0: number, x1: number, y1: number, stroke: string, lw: number, iso: string, cx: number, y2: number) => {
    graphic.push({ type: "rect", z: 49, silent: true, shape: { x: x0, y: y0, width: x1 - x0, height: y1 - y0 }, style: { fill: "#fff", stroke, lineWidth: lw } });
    const run = { fill: BLUE, stroke: BLUE, lineWidth: 2, fontFamily: "Lato", fontWeight: "bold", fontSize: 83 };
    graphic.push({
      type: "text", z: 50, silent: true, x: cx, y: y2 - 98,
      style: {
        text: `{a|Anti \u2013 }{b|Leishmania infantum}{a| ${iso}}`,
        textAlign: "center", textVerticalAlign: "middle",
        rich: { a: run, b: { ...run, fontStyle: "italic" } },
      },
    });
    text("(not normalized)", cx, y2, 83, BLUE, { weight: "bold", family: GILL, heavy: 2 });
  };
  titleBox(1008, 9, 2205, 227, "#000", 4, "IgM", 1605, 172);
  titleBox(994, 1824, 2187, 2042, BLUE, 3, "IgG", 1590, 1982);

  box("only trait", 477, 111, 811, 198);
  box("trait + covariate residual", 2336, 11, 3005, 98);
  box("Heritability estimation", 1289, 375, 1960, 464);
  box("trait + kinship residual", 328, 502, 997, 589);
  box("trait + covariate + kinship residual", 2163, 546, 3088, 635);
  box("GWAS", 1407, 1500, 1703, 1590);
  box("only trait", 484, 1812, 818, 1902);
  box("trait + covariate residual", 2325, 1797, 3037, 1884);
  box("Heritability estimation", 1300, 2142, 1969, 2232);
  box("trait + kinship residual", 281, 2316, 948, 2405);
  box("trait + covariate + kinship residual", 2120, 2287, 3110, 2377);
  box("GWAS", 1487, 3277, 1781, 3366);

  const caption = (t: string, x: number, y: number) => text(t, x, y, 43, "#000", { family: GILL });
  caption("Histogram", 359, 1090);
  caption("qqplot", 856, 1095);
  caption("Histogram", 2305, 1130);
  caption("qqplot", 2802, 1135);
  caption("Histogram", 325, 2907);
  caption("qqplot", 840, 2916);
  caption("Histogram", 2390, 2914);
  caption("qqplot", 2918, 2929);

  return { animation: false, backgroundColor: "#fff", grid, xAxis, yAxis, series, graphic: { elements: graphic } };
}

export default function App() {
  const ref = useRef<HTMLDivElement>(null);
  useEffect(() => {
    const chart = echarts.init(ref.current!, undefined, { renderer: "svg" });
    chart.setOption(buildOption() as any);
    return () => chart.dispose();
  }, []);
  return <div ref={ref} style={{ position: "absolute", left: 0, top: 0, width: 3197, height: 3496, background: "#fff" }} />;
}
